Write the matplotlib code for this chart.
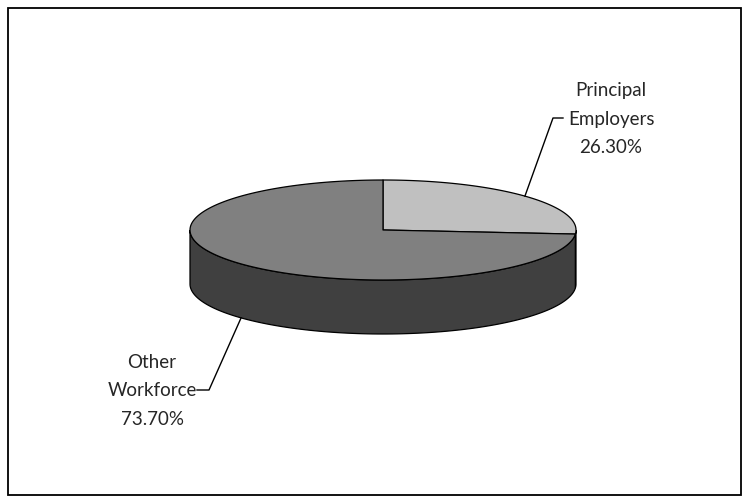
import numpy as np
import matplotlib.pyplot as plt
from matplotlib.patches import Polygon, Rectangle

# data
labels = ["Principal\nEmployers", "Other\nWorkforce"]
values = [26.30, 73.70]
top_colors = ["#c0c0c0", "#808080"]
side_colors = ["#606060", "#404040"]

# geometry in pixel units (figure 750x504)
cx, cy = 383, 230
rx, ry = 193, 50
depth = 54

fig = plt.figure(figsize=(7.5, 5.04), dpi=100)
ax = fig.add_axes([0, 0, 1, 1])
ax.set_xlim(0, 750)
ax.set_ylim(504, 0)
ax.axis('off')

ax.add_patch(Rectangle((8, 8), 733, 487, fill=False, ec='black', lw=1.3))

def pt(t, dy=0):
    return cx + rx * np.cos(np.radians(t)), cy - ry * np.sin(np.radians(t)) + dy

# slice angles: start at 12 o'clock, go clockwise
total = sum(values)
starts, ends = [], []
a = 90.0
for v in values:
    starts.append(a)
    a -= v / total * 360
    ends.append(a)

# sides (only front half visible, sin(t) < 0)
for s, e, sc in zip(starts, ends, side_colors):
    lo, hi = e, s
    for off in (0, -360, 360):
        v_lo = max(lo, -180 + off)
        v_hi = min(hi, 0 + off)
        if v_hi > v_lo:
            t = np.linspace(v_hi, v_lo, 120)
            upper = [pt(x) for x in t]
            lower = [pt(x, depth) for x in t[::-1]]
            ax.add_patch(Polygon(upper + lower, closed=True, fc=sc, ec='black', lw=0.9))

# tops
for s, e, tc in zip(starts, ends, top_colors):
    t = np.linspace(s, e, 200)
    verts = [(cx, cy)] + [pt(x) for x in t]
    ax.add_patch(Polygon(verts, closed=True, fc=tc, ec='black', lw=0.9, joinstyle='round'))

# labels with leader lines
font = dict(family=['Lato', 'DejaVu Sans'], fontsize=13.5,
            color='#262626', linespacing=1.8)

mid0 = (starts[0] + ends[0]) / 2
x0, y0 = pt(mid0)
ax.plot([x0, 553, 563], [y0, 118, 118], color='black', lw=1)
ax.text(611, 119, labels[0] + "\n{:.2f}%".format(values[0]), ha='center', va='center',
        multialignment='center', **font)

mid1 = (starts[1] + ends[1]) / 2
x1, y1 = pt(mid1, depth)
ax.plot([x1, 209, 197], [y1, 390, 390], color='black', lw=1)
ax.text(152, 391, labels[1] + "\n{:.2f}%".format(values[1]), ha='center', va='center',
        multialignment='center', **font)

fig.savefig("out.png", dpi=100)
